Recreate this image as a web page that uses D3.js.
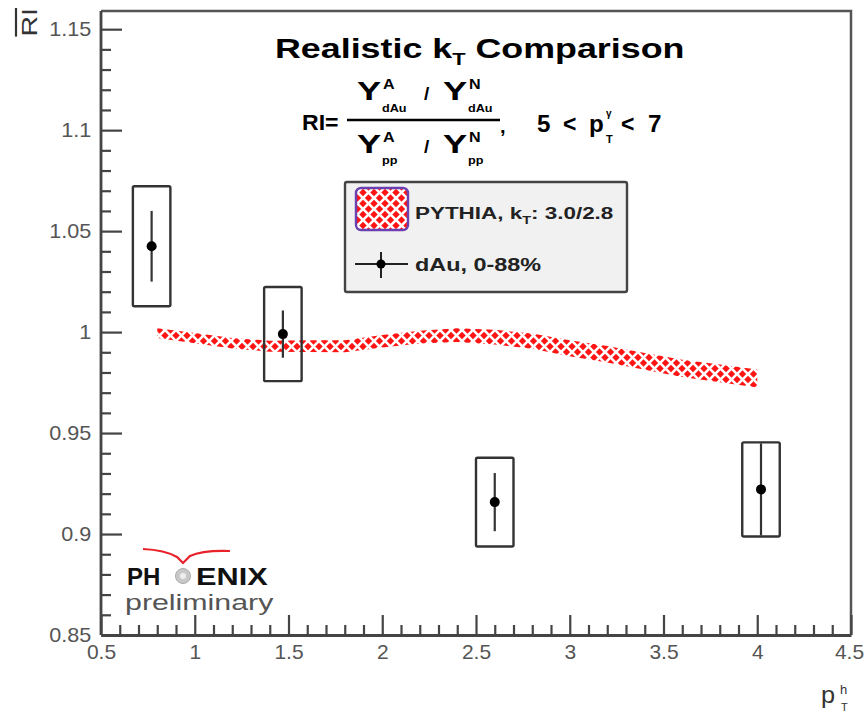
<!DOCTYPE html>
<html><head><meta charset="utf-8">
<script src="https://cdn.jsdelivr.net/npm/d3@7"></script>
<style>
body{margin:0;background:#fff}
svg{display:block}
text{font-family:"Liberation Sans",Arial,Helvetica,sans-serif}
</style>
</head><body>
<svg id="c" width="864" height="713"></svg>
<script>
// ---- data ----
const pythiaX      = [0.8, 1.0, 1.2, 1.4, 1.6, 1.8, 2.0, 2.2, 2.4, 2.6, 2.8, 3.0, 3.2, 3.4, 3.6, 3.8, 4.0];
const pythiaY      = [0.9995, 0.997, 0.9945, 0.993, 0.993, 0.993, 0.9955, 0.9975, 0.9985, 0.9975, 0.9955, 0.992, 0.989, 0.9855, 0.982, 0.9795, 0.977];
const pythiaErr    = [0.0024, 0.0025, 0.0026, 0.0027, 0.0029, 0.003, 0.0031, 0.0032, 0.0034, 0.0036, 0.0038, 0.004, 0.0041, 0.0042, 0.0043, 0.0044, 0.0045];
const dauX         = [0.77, 1.47, 2.6, 4.02];
const dauY         = [1.0425, 0.999, 0.9158, 0.9221];
const dauStat      = [0.0175, 0.0117, 0.0144, 0.0228];
const dauSys       = [0.0297, 0.0233, 0.022, 0.0233];
const sysHalfWidth = 0.1;
const yMajor = [0.85, 0.9, 0.95, 1.0, 1.05, 1.1, 1.15];
const xMajor = [0.5, 1, 1.5, 2, 2.5, 3, 3.5, 4, 4.5];
const legendLabels = ["PYTHIA, k", "dAu, 0-88%"];

// ---- setup ----
const svg = d3.select("#c");
const X0 = 101, X1 = 851, Y0 = 635, Y1 = 11;
const x = d3.scaleLinear().domain([0.5, 4.5]).range([X0, X1]);
const y = d3.scaleLinear().domain([0.85, 1.159]).range([Y0, Y1]);

const defs = svg.append("defs");
const P = 11;
const pat = defs.append("pattern").attr("id", "hatch").attr("patternUnits", "userSpaceOnUse")
  .attr("width", P).attr("height", P);
pat.append("rect").attr("width", P).attr("height", P).attr("fill", "#ff1414");
pat.append("path").attr("d", `M-1,-1 L${P+1},${P+1} M-1,${P-1} L1,${P+1} M${P-1},-1 L${P+1},1`).attr("stroke", "#fff").attr("stroke-width", 2.6);
pat.append("path").attr("d", `M${P+1},-1 L-1,${P+1} M1,-1 L-1,1 M${P+1},${P-1} L${P-1},${P+1}`).attr("stroke", "#fff").attr("stroke-width", 2.6);

// text helper with horizontal stretch
function txt(parent, px, py, parts, opt) {
  const g = parent.append("g").attr("transform", `translate(${px},${py}) scale(${opt.sx || 1},1)`);
  const t = g.append("text").attr("font-size", opt.size).attr("font-weight", opt.weight || "normal")
    .attr("fill", opt.fill || "#000").attr("text-anchor", opt.anchor || "start");
  parts.forEach(p => {
    const ts = t.append("tspan").text(p.t);
    if (p.size) ts.attr("font-size", p.size);
    if (p.dy) ts.attr("dy", p.dy);
    if (p.dx) ts.attr("dx", p.dx);
  });
  return g;
}

// ---- frame ----
svg.append("path").attr("d", `M${X0},${Y1} L${X1},${Y1} L${X1},${Y0}`)
  .attr("fill", "none").attr("stroke", "#555").attr("stroke-width", 2.5);

// ---- axes ----
const fmt = d => String(+d.toFixed(2));
const yMinor = d3.range(0.85, 1.1551, 0.01).map(v => +v.toFixed(3)).filter(v => !yMajor.some(m => Math.abs(m - v) < 1e-6));
const xMinor = d3.range(0.5, 4.5001, 0.1).map(v => +v.toFixed(3)).filter(v => !xMajor.some(m => Math.abs(m - v) < 1e-6));

const gyMinor = svg.append("g").attr("transform", `translate(${X0},0)`)
  .call(d3.axisLeft(y).tickValues(yMinor).tickSizeInner(-10).tickSizeOuter(0).tickFormat(""));
gyMinor.select(".domain").remove();
const gy = svg.append("g").attr("transform", `translate(${X0},0)`)
  .call(d3.axisLeft(y).tickValues(yMajor).tickSizeInner(-21).tickSizeOuter(0).tickPadding(9).tickFormat(fmt));
gy.select(".domain").attr("d", `M0,${Y1}V${Y0}`);

const gxMinor = svg.append("g").attr("transform", `translate(0,${Y0})`)
  .call(d3.axisBottom(x).tickValues(xMinor).tickSizeInner(-10).tickSizeOuter(0).tickFormat(""));
gxMinor.select(".domain").remove();
const gx = svg.append("g").attr("transform", `translate(0,${Y0})`)
  .call(d3.axisBottom(x).tickValues(xMajor).tickSizeInner(-20).tickSizeOuter(0).tickPadding(10).tickFormat(fmt));

[gy, gx, gyMinor, gxMinor].forEach(g => {
  g.selectAll("line").attr("stroke", "#444").attr("stroke-width", 2.2);
  g.selectAll(".domain").attr("stroke", "#444").attr("stroke-width", 2.8);
  g.selectAll("text").attr("font-size", 20).attr("fill", "#555").attr("font-family", "Liberation Sans, Arial, sans-serif");
});
gy.selectAll(".tick text").attr("transform", "scale(1.08,1)");
gx.selectAll(".tick text").attr("transform", "scale(1.05,1)");
gx.selectAll(".tick text").filter(d => d === 4.5).attr("text-anchor", "end").attr("dx", 12);

// ---- PYTHIA band ----
const band = pythiaX.map((v, i) => ({x: v, y: pythiaY[i], e: pythiaErr[i]}));
svg.append("path").datum(band)
  .attr("d", d3.area().x(d => x(d.x)).y0(d => y(d.y - d.e)).y1(d => y(d.y + d.e)))
  .attr("fill", "url(#hatch)");

// ---- dAu points ----
const pts = dauX.map((v, i) => ({x: v, y: dauY[i], s: dauStat[i], sys: dauSys[i]}));
const pg = svg.append("g");
pg.selectAll("rect.sys").data(pts).join("rect").attr("class", "sys")
  .attr("x", d => x(d.x - sysHalfWidth)).attr("width", d => x(d.x + sysHalfWidth) - x(d.x - sysHalfWidth))
  .attr("y", d => y(d.y + d.sys)).attr("height", d => y(d.y - d.sys) - y(d.y + d.sys))
  .attr("fill", "none").attr("stroke", "#333").attr("stroke-width", 2.4).attr("rx", 1.5);
pg.selectAll("line.err").data(pts).join("line").attr("class", "err")
  .attr("x1", d => x(d.x)).attr("x2", d => x(d.x))
  .attr("y1", d => y(d.y + d.s)).attr("y2", d => y(d.y - d.s))
  .attr("stroke", "#333").attr("stroke-width", 2.2);
pg.selectAll("circle").data(pts).join("circle")
  .attr("cx", d => x(d.x)).attr("cy", d => y(d.y)).attr("r", 5).attr("fill", "#000");

// ---- title ----
txt(svg, 275, 58, [{t: "Realistic k"}, {t: "T", size: 17, dy: 7}, {t: " Comparison", dy: -7}], {size: 28, weight: "bold", sx: 1.28});

// ---- formula ----
txt(svg, 302, 130, [{t: "RI="}], {size: 22, weight: "bold", sx: 1.05});
svg.append("line").attr("x1", 347).attr("x2", 500).attr("y1", 120).attr("y2", 120).attr("stroke", "#000").attr("stroke-width", 2.5);
[[100, 89, 112, "dAu"], [153, 142, 164, "pp"]].forEach(([bl, sup, sub, s]) => {
  txt(svg, 357, bl, [{t: "Y"}], {size: 25, weight: "bold", sx: 1.45});
  txt(svg, 383, sup, [{t: "A"}], {size: 14, weight: "bold", sx: 1.15});
  txt(svg, 382, sub, [{t: s}], {size: 11, weight: "bold", sx: 1.15});
  txt(svg, 424, bl, [{t: "/"}], {size: 19, weight: "bold"});
  txt(svg, 443, bl, [{t: "Y"}], {size: 25, weight: "bold", sx: 1.45});
  txt(svg, 469, sup, [{t: "N"}], {size: 14, weight: "bold", sx: 1.15});
  txt(svg, 468, sub, [{t: s}], {size: 11, weight: "bold", sx: 1.15});
});
txt(svg, 500, 133, [{t: ","}], {size: 20, weight: "bold"});
txt(svg, 537, 132, [{t: "5"}], {size: 23, weight: "bold", sx: 1.05});
txt(svg, 563, 132, [{t: "<"}], {size: 23, weight: "bold"});
txt(svg, 589, 132, [{t: "p"}], {size: 23, weight: "bold", sx: 1.05});
txt(svg, 606, 117, [{t: "γ"}], {size: 10, weight: "bold"});
txt(svg, 606, 143, [{t: "T"}], {size: 11, weight: "bold"});
txt(svg, 621, 132, [{t: "<"}], {size: 23, weight: "bold"});
txt(svg, 648, 132, [{t: "7"}], {size: 23, weight: "bold", sx: 1.05});

// ---- legend ----
const lg = svg.append("g");
lg.append("rect").attr("x", 345).attr("y", 182).attr("width", 282).attr("height", 110)
  .attr("fill", "#f1f1f1").attr("stroke", "#444").attr("stroke-width", 2.4).attr("rx", 2);
lg.append("rect").attr("x", 356).attr("y", 188).attr("width", 52).attr("height", 42).attr("rx", 5)
  .attr("fill", "url(#hatch)").attr("stroke", "#6a3fb0").attr("stroke-width", 2.4);
txt(lg, 415, 219, [{t: legendLabels[0]}, {t: "T", size: 11, dy: 5}, {t: ": 3.0/2.8", dy: -5}], {size: 17, weight: "bold", fill: "#222", sx: 1.32});
lg.append("line").attr("x1", 355).attr("x2", 408).attr("y1", 264).attr("y2", 264).attr("stroke", "#222").attr("stroke-width", 2);
lg.append("line").attr("x1", 381).attr("x2", 381).attr("y1", 252).attr("y2", 278).attr("stroke", "#222").attr("stroke-width", 2);
lg.append("circle").attr("cx", 381).attr("cy", 264).attr("r", 4.5).attr("fill", "#000");
txt(lg, 415, 271, [{t: legendLabels[1]}], {size: 18, weight: "bold", fill: "#222", sx: 1.3});

// ---- axis titles ----
const yt = svg.append("g").attr("transform", "translate(37,8) rotate(-90) scale(1.3,1)");
yt.append("text").attr("text-anchor", "end").attr("font-size", 22).attr("fill", "#333").text("RI");
yt.append("line").attr("x1", -22).attr("x2", 0).attr("y1", -21).attr("y2", -21).attr("stroke", "#333").attr("stroke-width", 2.2);

txt(svg, 821, 703, [{t: "p"}], {size: 23, fill: "#333", sx: 1.1});
txt(svg, 840, 694, [{t: "h"}], {size: 13, fill: "#333"});
txt(svg, 841, 711, [{t: "T"}], {size: 11, fill: "#333"});

// ---- PHENIX logo ----
svg.append("path").attr("d", "M143,549 Q165,550 177,557 L183,563 L190,556 Q203,550 230,551")
  .attr("fill", "none").attr("stroke", "#e8222a").attr("stroke-width", 2.2);
txt(svg, 127, 585, [{t: "PH"}], {size: 24, weight: "bold", fill: "#111", sx: 1.0});
svg.append("circle").attr("cx", 183).attr("cy", 576).attr("r", 7.5).attr("fill", "#c8c8c8").attr("stroke", "#aaa");
svg.append("circle").attr("cx", 183).attr("cy", 576).attr("r", 3).attr("fill", "#eee");
txt(svg, 196, 585, [{t: "ENIX"}], {size: 24, weight: "bold", fill: "#111", sx: 1.28});
txt(svg, 125, 610, [{t: "preliminary"}], {size: 22, fill: "#555", sx: 1.38});
</script>
</body></html>
